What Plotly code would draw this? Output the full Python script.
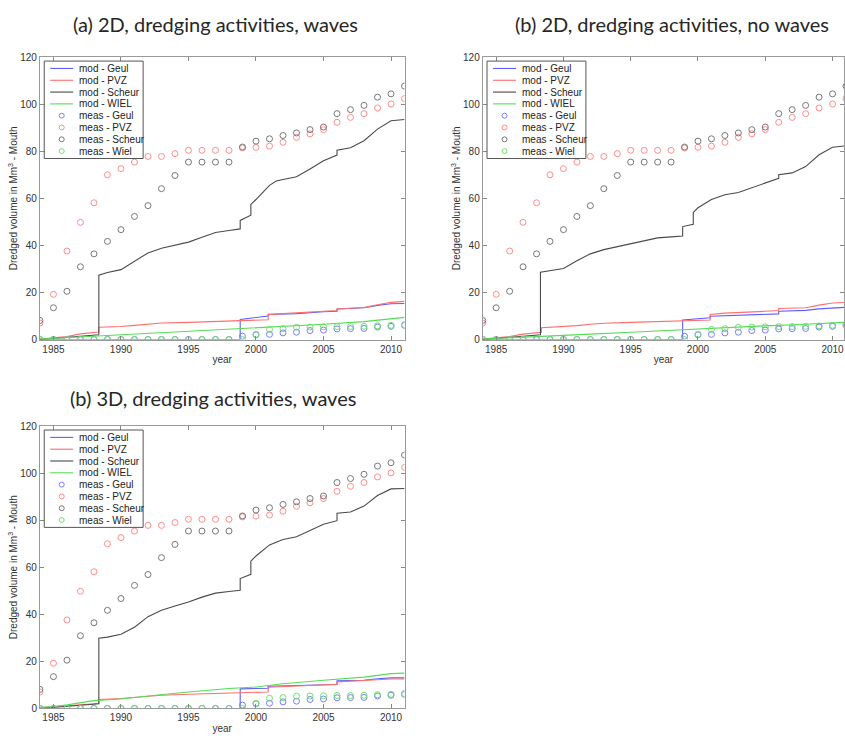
import plotly.graph_objects as go

W, H = 845, 740

# ---------------- data ----------------
years = list(range(1984, 2012))
meas_geul = [0]*15 + [1.4, 2.0, 2.2, 2.8, 3.1, 3.8, 4.0, 4.5, 4.6, 4.7, 5.3, 5.6, 6.0]
meas_pvz = [7.0, 19.2, 37.6, 49.8, 58.1, 70.0, 72.6, 75.4, 77.8, 77.8, 79.0, 80.4, 80.4, 80.4,
            80.4, 81.4, 81.7, 82.2, 83.8, 85.9, 87.4, 89.2, 92.3, 94.4, 96.0, 98.4, 100.1, 102.4]
meas_scheur = [8.1, 13.5, 20.5, 30.9, 36.4, 41.7, 46.7, 52.3, 56.9, 64.1, 69.7, 75.4, 75.4, 75.4,
               75.4, 81.8, 84.3, 85.3, 86.7, 87.8, 89.2, 90.3, 96.0, 97.7, 99.5, 103.0, 104.4, 107.7]
meas_wiel = [0]*16 + [2.2, 4.3, 4.6, 5.2, 5.3, 5.4, 5.5, 5.5, 5.6, 5.8, 6.0, 6.3]

# panel (a) model
a_scheur_t = [1984, 1985, 1986, 1987, 1988.36, 1988.36, 1989, 1990, 1990.5, 1991, 1992, 1993, 1994, 1995,
              1996, 1997, 1998, 1998.83, 1998.83, 1999.62, 1999.62, 2000, 2001, 2001.5, 2002, 2003, 2004,
              2005, 2006, 2006, 2007, 2008, 2009, 2010, 2011]
a_scheur_v = [0, 0.4, 0.9, 1.5, 2.0, 27.3, 28.5, 29.7, 31.5, 33.5, 36.8, 38.8, 40.0, 41.4, 43.5, 45.5,
              46.3, 47.0, 50.6, 52.8, 57.4, 59.5, 65.5, 67.4, 68.0, 69.2, 72.5, 76.0, 78.4, 80.5, 81.5,
              84.5, 89.4, 93.0, 93.5]
a_pvz_t = [1984, 1985, 1986, 1987, 1988, 1988.36, 1988.36, 1990, 1991, 1992, 1993, 1995, 1997, 1999,
           2000, 2000.9, 2000.9, 2002, 2005, 2006, 2006, 2008, 2009, 2010, 2011]
a_pvz_v = [0.2, 0.6, 1.3, 2.4, 3.0, 3.2, 5.2, 5.5, 6.0, 6.6, 7.0, 7.3, 7.7, 7.8, 8.0, 8.4, 10.5, 11.0,
           12.0, 12.3, 13.0, 13.6, 14.8, 15.8, 16.2]
a_geul_t = [1984, 1998.83, 1998.83, 2000, 2000.9, 2000.9, 2003, 2005, 2006, 2006, 2008, 2009, 2010, 2011]
a_geul_v = [0, 0, 8.5, 9.5, 10.0, 10.7, 11.0, 11.8, 12.0, 13.0, 13.5, 14.5, 15.2, 15.3]
a_wiel_t = [1984, 1986, 1988, 1990, 1992, 1995, 1998, 2000, 2002, 2005, 2008, 2010, 2011]
a_wiel_v = [0.2, 0.8, 1.4, 1.8, 2.3, 3.2, 4.3, 5.0, 5.6, 6.5, 7.6, 8.8, 9.4]

# panel (b) model
b_scheur_t = [1984, 1985, 1986, 1987, 1988.29, 1988.29, 1989, 1990, 1991, 1992, 1993, 1994, 1995, 1996,
              1997, 1998, 1998.86, 1998.86, 1999.65, 1999.65, 2000, 2001, 2002, 2003, 2004, 2005, 2006,
              2006, 2007, 2008, 2009, 2010, 2011]
b_scheur_v = [0, 0.4, 0.9, 1.5, 2.0, 28.6, 29.2, 30.2, 33.5, 36.4, 38.2, 39.5, 40.7, 42.0, 43.2, 43.6,
              44.0, 48.0, 49.0, 54.0, 56.0, 59.5, 61.5, 62.5, 64.5, 66.8, 68.5, 70.0, 70.8, 73.5, 78.5,
              81.7, 82.3]
b_pvz_t = a_pvz_t
b_pvz_v = [0.2, 0.6, 1.3, 2.3, 2.9, 3.1, 5.0, 5.4, 5.9, 6.5, 6.9, 7.3, 7.6, 7.8, 8.0, 8.3, 10.6, 11.2,
           12.0, 12.3, 13.2, 13.5, 14.6, 15.5, 15.8]
b_geul_t = [1984, 1998.86, 1998.86, 2000, 2000.9, 2000.9, 2003, 2005, 2006, 2006, 2008, 2009, 2010, 2011]
b_geul_v = [0, 0, 8.3, 8.8, 9.2, 9.9, 10.2, 10.6, 10.9, 12.0, 12.4, 13.0, 13.5, 13.7]
b_wiel_t = a_wiel_t
b_wiel_v = [0.2, 0.8, 1.4, 1.8, 2.3, 3.1, 4.0, 4.6, 5.1, 5.8, 6.5, 7.0, 7.3]

# panel (c) model
c_scheur_t = [1984, 1985, 1986, 1987, 1988.36, 1988.36, 1989, 1990, 1991, 1992, 1993, 1994, 1995, 1996,
              1997, 1998, 1998.83, 1998.83, 1999.62, 1999.62, 2000, 2001, 2002, 2003, 2004, 2005, 2006,
              2006, 2007, 2008, 2009, 2010, 2011]
c_scheur_v = [0, 0.4, 0.9, 1.5, 2.0, 29.8, 30.3, 31.5, 34.5, 39.0, 41.7, 43.5, 45.2, 47.3, 49.0, 49.7,
              50.2, 55.2, 57.0, 62.6, 64.8, 69.5, 71.8, 73.0, 75.5, 78.3, 79.8, 83.0, 83.5, 86.0, 90.5,
              93.3, 93.5]
c_pvz_t = [1984, 1986, 1988, 1988.36, 1988.36, 1990, 1992, 1993, 1995, 1998, 2000, 2000.9, 2000.9, 2003,
           2005, 2006, 2006, 2008, 2009, 2010, 2011]
c_pvz_v = [0.3, 1.0, 2.0, 2.2, 3.8, 4.2, 5.0, 5.6, 6.0, 6.5, 6.8, 7.0, 9.0, 9.5, 10.0, 10.3, 11.3, 11.7,
           12.2, 12.5, 12.5]
c_geul_t = [1984, 1998.83, 1998.83, 2000, 2000.9, 2000.9, 2003, 2005, 2006, 2006, 2008, 2009, 2010, 2011]
c_geul_v = [0, 0, 8.3, 8.5, 8.6, 9.4, 9.6, 10.0, 10.2, 11.7, 12.0, 12.6, 13.0, 13.0]
c_wiel_t = [1984, 1985, 1986, 1987, 1988, 1990, 1991, 1992, 1995, 1998, 2000, 2002, 2005, 2008, 2010, 2011]
c_wiel_v = [0.5, 0.8, 1.5, 2.5, 3.3, 4.0, 4.7, 5.3, 7.0, 8.5, 9.1, 10.5, 12.0, 13.3, 14.8, 15.0]

titles = ["(a) 2D, dredging activities, waves",
          "(b) 2D, dredging activities, no waves",
          "(b) 3D, dredging activities, waves"]
legend_labels = ["mod - Geul", "mod - PVZ", "mod - Scheur", "mod - WIEL",
                 "meas - Geul", "meas - PVZ", "meas - Scheur", "meas - Wiel"]
x_ticks = [1985, 1990, 1995, 2000, 2005, 2010]
y_ticks = [0, 20, 40, 60, 80, 100, 120]

# ---------------- styles ----------------
line_cols = ["#5e5eff", "#ff6e6e", "#4a4a4a", "#55dd55"]
mark_cols = ["#7c7cff", "#ff8c8c", "#777777", "#70e070"]


def X(px):
    return px / W


def Y(py):
    return 1 - py / H


fig = go.Figure()

panels = [
    dict(model=[(a_geul_t, a_geul_v), (a_pvz_t, a_pvz_v), (a_scheur_t, a_scheur_v), (a_wiel_t, a_wiel_v)],
         box=(40, 405, 52, 339), xr=[1984, 2011]),
    dict(model=[(b_geul_t, b_geul_v), (b_pvz_t, b_pvz_v), (b_scheur_t, b_scheur_v), (b_wiel_t, b_wiel_v)],
         box=(483.3, 845, 52, 339), xr=[1984, 1984 + (845 - 483.3) / 13.47]),
    dict(model=[(c_geul_t, c_geul_v), (c_pvz_t, c_pvz_v), (c_scheur_t, c_scheur_v), (c_wiel_t, c_wiel_v)],
         box=(40, 405, 427, 714), xr=[1984, 2011]),
]
meas = [meas_geul, meas_pvz, meas_scheur, meas_wiel]

tickfont = dict(family="Liberation Sans, Arial, sans-serif", size=10, color="#333333")
shapes = []
annotations = []

for i, p in enumerate(panels):
    sfx = "" if i == 0 else str(i + 1)
    xa, ya = "x" + sfx, "y" + sfx
    for k, (t, v) in enumerate(p["model"]):
        fig.add_trace(go.Scatter(x=t, y=v, mode="lines", xaxis=xa, yaxis=ya, showlegend=False,
                                 line=dict(color=line_cols[k], width=1.1)))
    for k, m in enumerate(meas):
        fig.add_trace(go.Scatter(x=years, y=m, mode="markers", xaxis=xa, yaxis=ya, showlegend=False,
                                 marker=dict(symbol="circle-open", size=6, color=mark_cols[k],
                                             line=dict(width=1, color=mark_cols[k]))))
    x0, x1, y0, y1 = p["box"]
    fig.layout["xaxis" + sfx] = dict(
        domain=[X(x0), min(1.0, X(x1))], range=p["xr"], anchor=ya, tickvals=x_ticks,
        ticks="inside", ticklen=4, tickcolor="#888888", showline=True, linecolor="#9a9a9a",
        linewidth=1, mirror="ticks", showgrid=False, zeroline=False, tickfont=tickfont,
        title=dict(text="year", font=dict(family="Liberation Sans, Arial", size=10, color="#333333"),
                   standoff=2))
    fig.layout["yaxis" + sfx] = dict(
        domain=[Y(y1), Y(y0)], range=[0, 120], anchor=xa, tickvals=y_ticks,
        ticks="inside", ticklen=4, tickcolor="#888888", showline=True, linecolor="#9a9a9a",
        linewidth=1, mirror="ticks", showgrid=False, zeroline=False, tickfont=tickfont,
        title=dict(text="Dredged volume in Mm<sup>3</sup> - Mouth",
                   font=dict(family="Liberation Sans, Arial", size=10, color="#333333"), standoff=0))

    # manual legend box
    lx, ly = x0 + 4.3, y0 + 4
    shapes.append(dict(type="rect", xref="paper", yref="paper", x0=X(lx), x1=X(lx + 99),
                       y0=Y(ly + 99), y1=Y(ly), line=dict(color="#555555", width=1),
                       fillcolor="white", layer="above"))
    for r, lab in enumerate(legend_labels):
        ry = ly + 7.5 + 12 * r
        if r < 4:
            shapes.append(dict(type="line", xref="paper", yref="paper", x0=X(lx + 6), x1=X(lx + 29),
                               y0=Y(ry), y1=Y(ry), line=dict(color=line_cols[r], width=1.1),
                               layer="above"))
        else:
            c = mark_cols[r - 4]
            shapes.append(dict(type="circle", xref="paper", yref="paper", x0=X(lx + 15),
                               x1=X(lx + 20), y0=Y(ry + 2.5), y1=Y(ry - 2.5),
                               line=dict(color=c, width=1), layer="above"))
        annotations.append(dict(text=lab, xref="paper", yref="paper", x=X(lx + 33), y=Y(ry),
                                xanchor="left", yanchor="middle", showarrow=False,
                                font=dict(family="Liberation Sans, Arial", size=10, color="#222222")))

title_pos = [(216, 18), (673, 18), (213, 398)]
for t, (cx, cy) in zip(titles, title_pos):
    annotations.append(dict(text=t, xref="paper", yref="paper", x=X(cx), y=Y(cy), xanchor="center",
                            yanchor="middle", showarrow=False,
                            font=dict(family="Lato, sans-serif", size=20, color="#262626")))

fig.update_layout(width=W, height=H, margin=dict(l=0, r=0, t=0, b=0), paper_bgcolor="white",
                  plot_bgcolor="white", showlegend=False, shapes=shapes, annotations=annotations)

fig.write_html("out.html")
